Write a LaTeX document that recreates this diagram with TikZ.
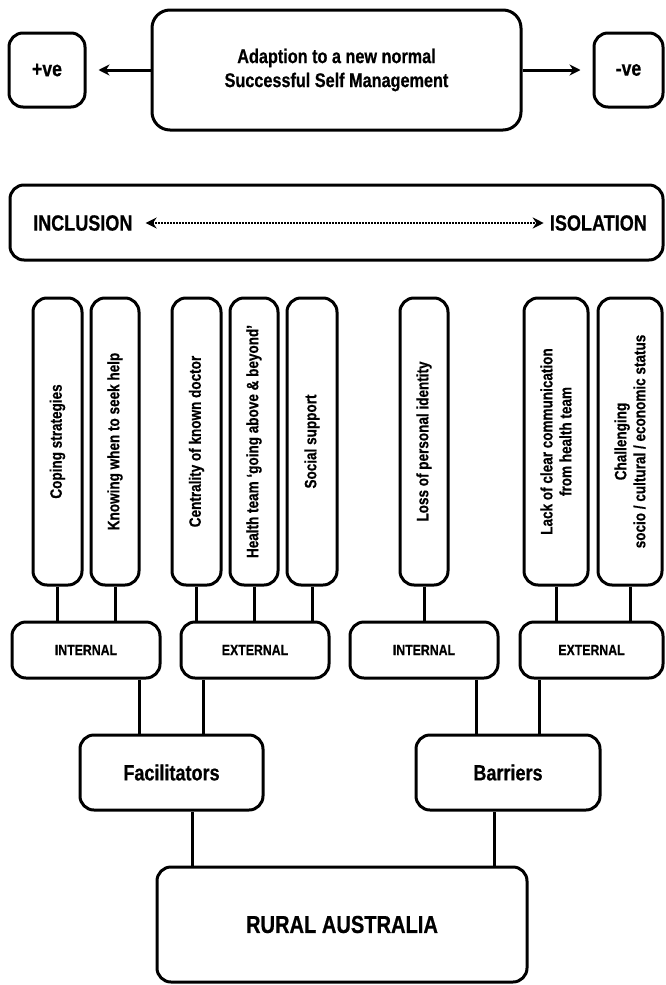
\documentclass[tikz,border=0pt]{standalone}
\usepackage{fontspec}
\setmainfont[FakeStretch=0.82, BoldFeatures={FakeBold=0.6}]{Liberation Sans}
\usetikzlibrary{arrows.meta,calc}
\tikzset{
  box/.style={draw, line width=3pt, rounded corners=14pt, inner sep=0pt, align=center, font=\bfseries},
  vbox/.style={box, rotate=90, minimum width=287pt, font=\fontsize{16.5}{19}\selectfont\bfseries},
  lvl/.style={box, minimum height=56pt, font=\fontsize{15}{18}\selectfont\bfseries},
  mid/.style={box, minimum height=75pt, font=\fontsize{22}{26}\selectfont\bfseries},
  lbl/.style={inner sep=0pt, font=\fontsize{22}{26}\selectfont\bfseries},
  conn/.style={line width=3pt},
  arr/.style={line width=3pt, -{Stealth[length=11pt,width=11pt]}},
  darr/.style={line width=2.6pt, dash pattern=on 1.5pt off 1.5pt, {Stealth[length=11pt,width=11pt]}-{Stealth[length=11pt,width=11pt]}}
}
\begin{document}
\begin{tikzpicture}[x=1pt,y=-1pt]
\useasboundingbox (0,0) rectangle (665,985);
% top row
\node[box, rounded corners=18pt, minimum width=369pt, minimum height=120pt, font=\fontsize{19.8}{24}\selectfont\bfseries] (adapt) at (336.5,70) {Adaption to a new normal\\Successful Self Management};
\node[box, minimum width=76pt, minimum height=74pt, font=\fontsize{21.5}{25}\selectfont\bfseries] (pos) at (47,70) {+ve};
\node[box, minimum width=69pt, minimum height=74pt, font=\fontsize{21.5}{25}\selectfont\bfseries] (neg) at (628.5,70) {-ve};
\draw[arr] (adapt.west) -- ([xshift=12pt]pos.east);
\draw[arr] (adapt.east) -- ([xshift=-12pt]neg.west);
% inclusion / isolation
\node[box, minimum width=653pt, minimum height=75pt] (incbox) at (336.5,222.5) {};
\node[lbl, anchor=west] (inc) at (33,223) {INCLUSION};
\node[lbl, anchor=east] (iso) at (647,223) {ISOLATION};
\draw[darr] ([xshift=13pt]inc.east) -- ([xshift=-6pt]iso.west);
% vertical boxes
\node[vbox, minimum height=49pt] (cope) at (57.5,441.5) {Coping strategies};
\node[vbox, minimum height=48pt] (know) at (115,441.5) {Knowing when to seek help};
\node[vbox, minimum height=49pt] (cent) at (196.5,441.5) {Centrality of known doctor};
\node[vbox, minimum height=48pt] (health) at (254,441.5) {Health team `going above \& beyond'};
\node[vbox, minimum height=50pt] (social) at (312,441.5) {Social support};
\node[vbox, minimum height=48pt] (loss) at (424,441.5) {Loss of personal identity};
\node[vbox, minimum height=64pt] (lack) at (556,441.5) {Lack of clear communication\\from health team};
\node[vbox, minimum height=64pt] (chal) at (630,441.5) {Challenging\\socio / cultural / economic status};
% level boxes
\node[lvl, minimum width=148pt] (intL) at (86,650) {INTERNAL};
\node[lvl, minimum width=148pt] (extL) at (255,650) {EXTERNAL};
\node[lvl, minimum width=148pt] (intR) at (424,650) {INTERNAL};
\node[lvl, minimum width=143pt] (extR) at (591.5,650) {EXTERNAL};
\foreach \v/\t in {cope/intL, know/intL, cent/extL, health/extL, social/extL, loss/intR, lack/extR, chal/extR}
  \draw[conn] (\v.west) -- (\v.west |- \t.north);
% facilitators / barriers
\node[mid, minimum width=183pt] (fac) at (171.5,772.5) {Facilitators};
\node[mid, minimum width=184pt] (bar) at (508,772.5) {Barriers};
\draw[conn] ([xshift=-32pt]fac.north) -- ([xshift=-32pt]fac.north |- intL.south);
\draw[conn] ([xshift=32pt]fac.north) -- ([xshift=32pt]fac.north |- extL.south);
\draw[conn] ([xshift=-32pt]bar.north) -- ([xshift=-32pt]bar.north |- intR.south);
\draw[conn] ([xshift=31pt]bar.north) -- ([xshift=31pt]bar.north |- extR.south);
% rural australia
\node[box, minimum width=370pt, minimum height=115pt, font=\fontsize{24.5}{29}\selectfont\bfseries] (rural) at (342,924.5) {RURAL AUSTRALIA};
\draw[conn] ([xshift=-150pt]rural.north) -- ([xshift=-150pt]rural.north |- fac.south);
\draw[conn] ([xshift=152pt]rural.north) -- ([xshift=152pt]rural.north |- bar.south);
\end{tikzpicture}
\end{document}
